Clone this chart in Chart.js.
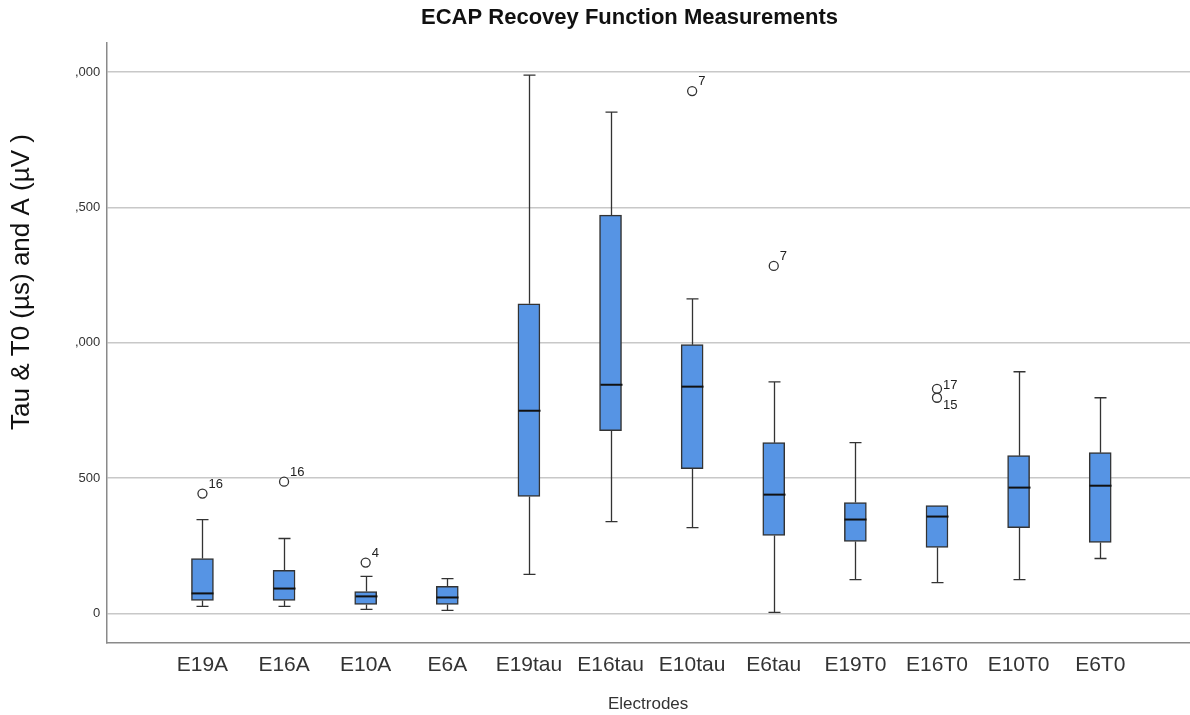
<!DOCTYPE html>
<html>
<head>
<meta charset="utf-8">
<script src="https://cdn.jsdelivr.net/npm/chart.js@4"></script>
<style>
  html, body { margin: 0; background: #fff; overflow: hidden; }
  #wrap { width: 1190px; height: 715px; }
  canvas { display: block; }
</style>
</head>
<body>
<div id="wrap"><canvas id="myChart" width="1190" height="715"></canvas></div>
<script>
// Sample data
const categories = ['E19A', 'E16A', 'E10A', 'E6A', 'E19tau', 'E16tau', 'E10tau', 'E6tau', 'E19T0', 'E16T0', 'E10T0', 'E6T0'];
const whiskerLow = [26, 26, 15, 11, 144, 339, 317, 4, 125, 114, 125, 203];
const q1 = [48, 48, 33, 33, 432, 675, 535, 288, 266, 244, 317, 262];
const median = [74, 92, 63, 59, 749, 845, 838, 439, 347, 358, 465, 472];
const q3 = [203, 159, 81, 100, 1144, 1472, 993, 631, 410, 399, 583, 594];
const whiskerHigh = [347, 277, 137, 129, 1989, 1852, 1162, 856, 631, 399, 893, 797];

// outliers: category index, value, case number
const outlierCat = [0, 1, 2, 6, 7, 9, 9];
const outlierVal = [443, 487, 188, 1930, 1284, 830, 797];
const outlierCase = ['16', '16', '4', '7', '7', '17', '15'];

// y axis tick labels as they appear (clipped thousands)
const yTickValues = [0, 500, 1000, 1500, 2000];
const yTickLabels = ['0', '500', ',000', ',500', ',000'];

const yTitle = 'Tau & T0 (µs) and A (µV )';

const boxWidth = 22;
const capWidth = 12;
const lineColor = '#333333';
const fontFamily = '"Liberation Sans", Arial, sans-serif';

// whiskers behind the boxes, medians and case labels on top
const boxplotExtras = {
    id: 'boxplotExtras',
    beforeDatasetsDraw(chart) {
        const { ctx, scales: { x, y } } = chart;
        ctx.save();
        ctx.strokeStyle = lineColor;
        ctx.lineWidth = 1.3;
        categories.forEach((c, i) => {
            const px = Math.round(x.getPixelForValue(i)) + 0.5;
            const yLo = y.getPixelForValue(whiskerLow[i]);
            const yQ1 = y.getPixelForValue(q1[i]);
            const yQ3 = y.getPixelForValue(q3[i]);
            const yHi = y.getPixelForValue(whiskerHigh[i]);
            ctx.beginPath();
            ctx.moveTo(px, yLo); ctx.lineTo(px, yQ1);
            ctx.moveTo(px, yQ3); ctx.lineTo(px, yHi);
            if (whiskerLow[i] < q1[i]) {
                ctx.moveTo(px - capWidth / 2, yLo); ctx.lineTo(px + capWidth / 2, yLo);
            }
            if (whiskerHigh[i] > q3[i]) {
                ctx.moveTo(px - capWidth / 2, yHi); ctx.lineTo(px + capWidth / 2, yHi);
            }
            ctx.stroke();
        });
        ctx.restore();
    },
    afterDatasetsDraw(chart) {
        const { ctx, scales: { x, y } } = chart;
        ctx.save();
        ctx.strokeStyle = '#111';
        ctx.lineWidth = 2;
        categories.forEach((c, i) => {
            const px = Math.round(x.getPixelForValue(i)) + 0.5;
            const pm = y.getPixelForValue(median[i]);
            ctx.beginPath();
            ctx.moveTo(px - boxWidth / 2, pm);
            ctx.lineTo(px + boxWidth / 2, pm);
            ctx.stroke();
        });
        ctx.fillStyle = '#222';
        ctx.font = '13px ' + fontFamily;
        ctx.textAlign = 'left';
        outlierCat.forEach((ci, k) => {
            const px = x.getPixelForValue(ci);
            const py = y.getPixelForValue(outlierVal[k]);
            const pair = outlierCat.filter(cj => cj === ci).length > 1;
            // lower of two close outliers in the same box gets its label underneath
            const below = outlierCat.some((cj, j) => j !== k && cj === ci && outlierVal[j] > outlierVal[k]);
            if (below) {
                ctx.textBaseline = 'top';
                ctx.fillText(outlierCase[k], px + 6, py + 1);
            } else {
                ctx.textBaseline = 'alphabetic';
                ctx.fillText(outlierCase[k], px + 6, pair ? py : py - 6);
            }
        });
        // y axis title
        ctx.translate(22, 282);
        ctx.rotate(-Math.PI / 2);
        ctx.fillStyle = '#111';
        ctx.font = '26px ' + fontFamily;
        ctx.textAlign = 'center';
        ctx.textBaseline = 'middle';
        ctx.fillText(yTitle, 0, 0);
        ctx.restore();
    }
};

const ctx = document.getElementById('myChart').getContext('2d');

const myChart = new Chart(ctx, {
    type: 'bar',
    data: {
        datasets: [
            {
                type: 'bar',
                data: categories.map((c, i) => ({ x: i, y: [q1[i], q3[i]] })),
                backgroundColor: '#5694e4',
                borderColor: lineColor,
                borderWidth: 1.5,
                borderSkipped: false,
                barThickness: boxWidth
            },
            {
                type: 'scatter',
                data: outlierCat.map((ci, k) => ({ x: ci, y: outlierVal[k] })),
                pointRadius: 4.5,
                pointBackgroundColor: '#ffffff',
                pointBorderColor: lineColor,
                pointBorderWidth: 1.3
            }
        ]
    },
    options: {
        responsive: false,
        animation: false,
        layout: {
            autoPadding: false, // otherwise the point radius eats 6px on the right
            padding: { left: 69, right: 0, top: 0, bottom: 0 }
        },
        scales: {
            x: {
                type: 'linear',
                offset: false,
                min: -1.178,
                max: 12.1,
                afterBuildTicks: (scale) => { scale.ticks = categories.map((c, i) => ({ value: i })); },
                grid: { display: false },
                border: { display: true, color: '#8a8a8a', width: 1.5 },
                ticks: {
                    autoSkip: false,
                    maxRotation: 0,
                    color: '#333',
                    padding: 2,
                    font: { family: fontFamily, size: 21 },
                    callback: (v) => categories[v]
                },
                title: {
                    display: true,
                    text: 'Electrodes',
                    color: '#333',
                    padding: { top: 15, bottom: 0 },
                    font: { family: fontFamily, size: 17 }
                }
            },
            y: {
                min: -107,
                max: 2110,
                afterBuildTicks: (scale) => { scale.ticks = yTickValues.map(v => ({ value: v })); },
                grid: { color: '#c8c8c8', lineWidth: 1.5, drawTicks: false },
                border: { display: true, color: '#8a8a8a', width: 1.5 },
                ticks: {
                    color: '#333',
                    padding: 6,
                    font: { family: fontFamily, size: 13 },
                    callback: (v) => yTickLabels[yTickValues.indexOf(v)]
                }
            }
        },
        plugins: {
            legend: { display: false },
            tooltip: { enabled: false },
            title: {
                display: true,
                text: 'ECAP Recovey Function Measurements',
                color: '#111',
                padding: { top: 5, bottom: 11 },
                font: { family: fontFamily, size: 22, weight: 'bold' }
            }
        }
    },
    plugins: [boxplotExtras]
});

window.addEventListener('load', () => {
    console.log("chart drawn");
});
</script>
</body>
</html>
